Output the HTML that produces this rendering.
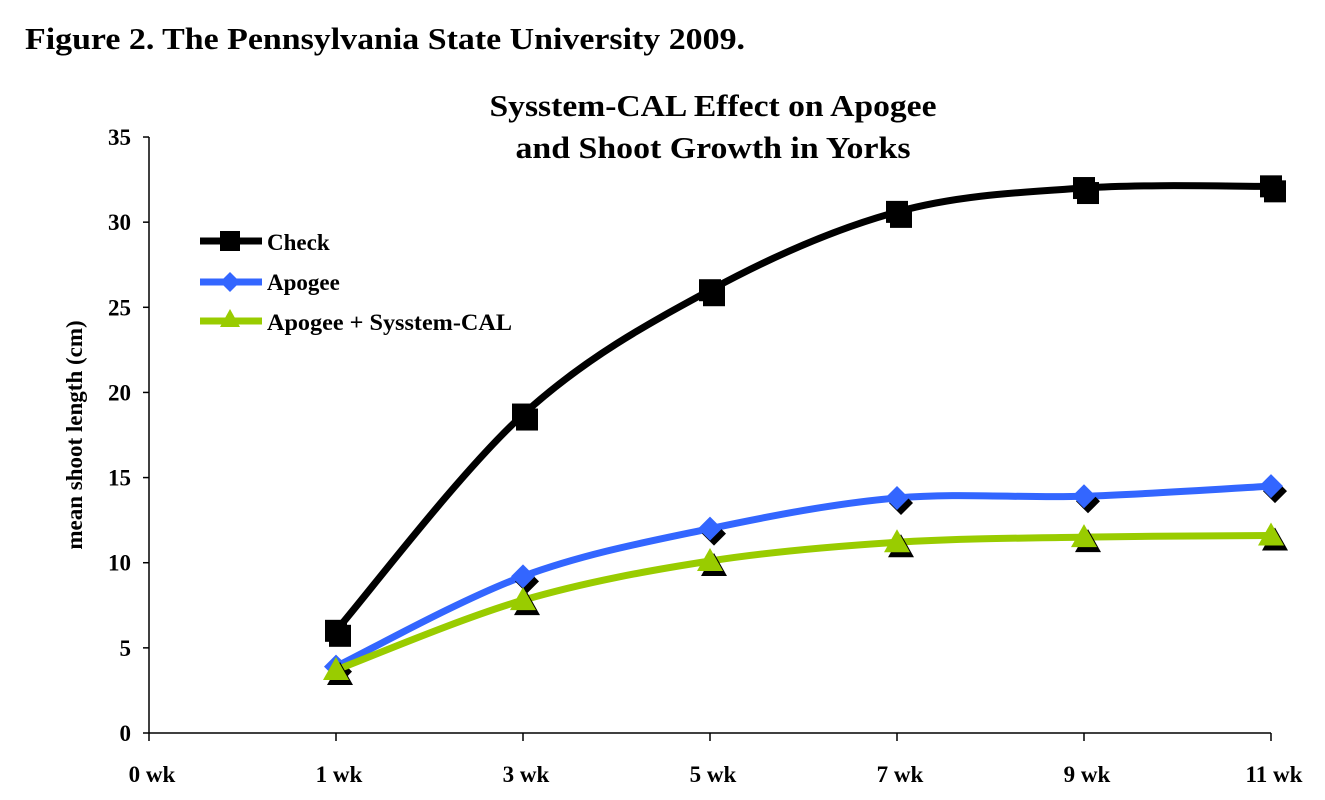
<!DOCTYPE html><html><head><style>body{margin:0;background:#fff}svg{display:block}text{font-family:"Liberation Serif",serif;font-weight:bold}</style></head><body>
<svg id="s" width="1325" height="800" xmlns="http://www.w3.org/2000/svg">
<text x="25" y="49" font-size="31" textLength="720" lengthAdjust="spacingAndGlyphs">Figure 2. The Pennsylvania State University 2009.</text>
<text x="713" y="116" font-size="31" text-anchor="middle" textLength="447" lengthAdjust="spacingAndGlyphs">Sysstem-CAL Effect on Apogee</text>
<text x="713" y="158" font-size="31" text-anchor="middle" textLength="395" lengthAdjust="spacingAndGlyphs">and Shoot Growth in Yorks</text>
<text transform="translate(82,435) rotate(-90)" font-size="23" text-anchor="middle">mean shoot length (cm)</text>
<g id="ax" stroke="#000" stroke-width="1.5"></g>
<g id="lbl" font-size="23"></g>
<g id="ser"></g>
<g font-size="23">
<line x1="200" y1="241" x2="262" y2="241" stroke="#000" stroke-width="7"/><rect x="220" y="231" width="20" height="20" fill="#000"/><text x="267" y="250">Check</text>
<line x1="200" y1="282" x2="262" y2="282" stroke="#3366ff" stroke-width="7"/><path d="M230 272 L240 282 L230 292 L220 282Z" fill="#3366ff"/><text x="267" y="290">Apogee</text>
<line x1="200" y1="321" x2="262" y2="321" stroke="#99cc00" stroke-width="7"/><path d="M230 309 L240 327 L220 327Z" fill="#99cc00"/><text x="267" y="330" textLength="245" lengthAdjust="spacingAndGlyphs">Apogee + Sysstem-CAL</text>
</g>
</svg>
<script>
var X=[336,523,710,897,1084,1271],Y=v=>733-v*17.03;
var ax=document.getElementById('ax'),lb=document.getElementById('lbl'),se=document.getElementById('ser');
var h='<line x1="149" y1="137" x2="149" y2="733"/><line x1="149" y1="733" x2="1271" y2="733"/>',l='';
for(var i=0;i<=7;i++){var y=733-i*85.14;h+='<line x1="143" y1="'+y+'" x2="149" y2="'+y+'"/>';l+='<text x="131" y="'+(y+8)+'" text-anchor="end">'+(i*5)+'</text>';}
var xl=['0 wk','1 wk','3 wk','5 wk','7 wk','9 wk','11 wk'],xs=[149].concat(X);
xs.forEach((x,i)=>{h+='<line x1="'+x+'" y1="733" x2="'+x+'" y2="741"/>';l+='<text x="'+(x+3)+'" y="782" text-anchor="middle">'+xl[i]+'</text>';});
ax.innerHTML=h;lb.innerHTML=l;
function path(p){var d='M'+p[0][0]+' '+p[0][1];for(var i=0;i<p.length-1;i++){var a=p[i-1]||p[i],b=p[i],c=p[i+1],e=p[i+2]||c;d+=' C'+(b[0]+(c[0]-a[0])/6)+' '+(b[1]+(c[1]-a[1])/6)+' '+(c[0]-(e[0]-b[0])/6)+' '+(c[1]-(e[1]-b[1])/6)+' '+c[0]+' '+c[1];}return d;}
var S=[[[6,18.7,26,30.6,32,32.1],'#000','sq'],[[3.9,9.2,12,13.8,13.9,14.5],'#3366ff','di'],[[3.7,7.8,10.1,11.2,11.5,11.6],'#99cc00','tr']];
var out='';
S.forEach(s=>{var p=s[0].map((v,i)=>[X[i],Y(v)]);out+='<path d="'+path(p)+'" fill="none" stroke="'+s[1]+'" stroke-width="7"/>';
function m(x,y,c){if(s[2]=='sq')return '<rect x="'+(x-11)+'" y="'+(y-11)+'" width="22" height="22" fill="'+c+'"/>';if(s[2]=='di')return '<path d="M'+x+' '+(y-12)+' L'+(x+12)+' '+y+' L'+x+' '+(y+12)+' L'+(x-12)+' '+y+'Z" fill="'+c+'"/>';return '<path d="M'+x+' '+(y-13)+' L'+(x+13)+' '+(y+10)+' L'+(x-13)+' '+(y+10)+'Z" fill="'+c+'"/>';}
p.forEach(q=>{out+=m(q[0]+4,q[1]+5,'#000')+m(q[0],q[1],s[1]);});});
se.innerHTML=out;
</script>
</body></html>
